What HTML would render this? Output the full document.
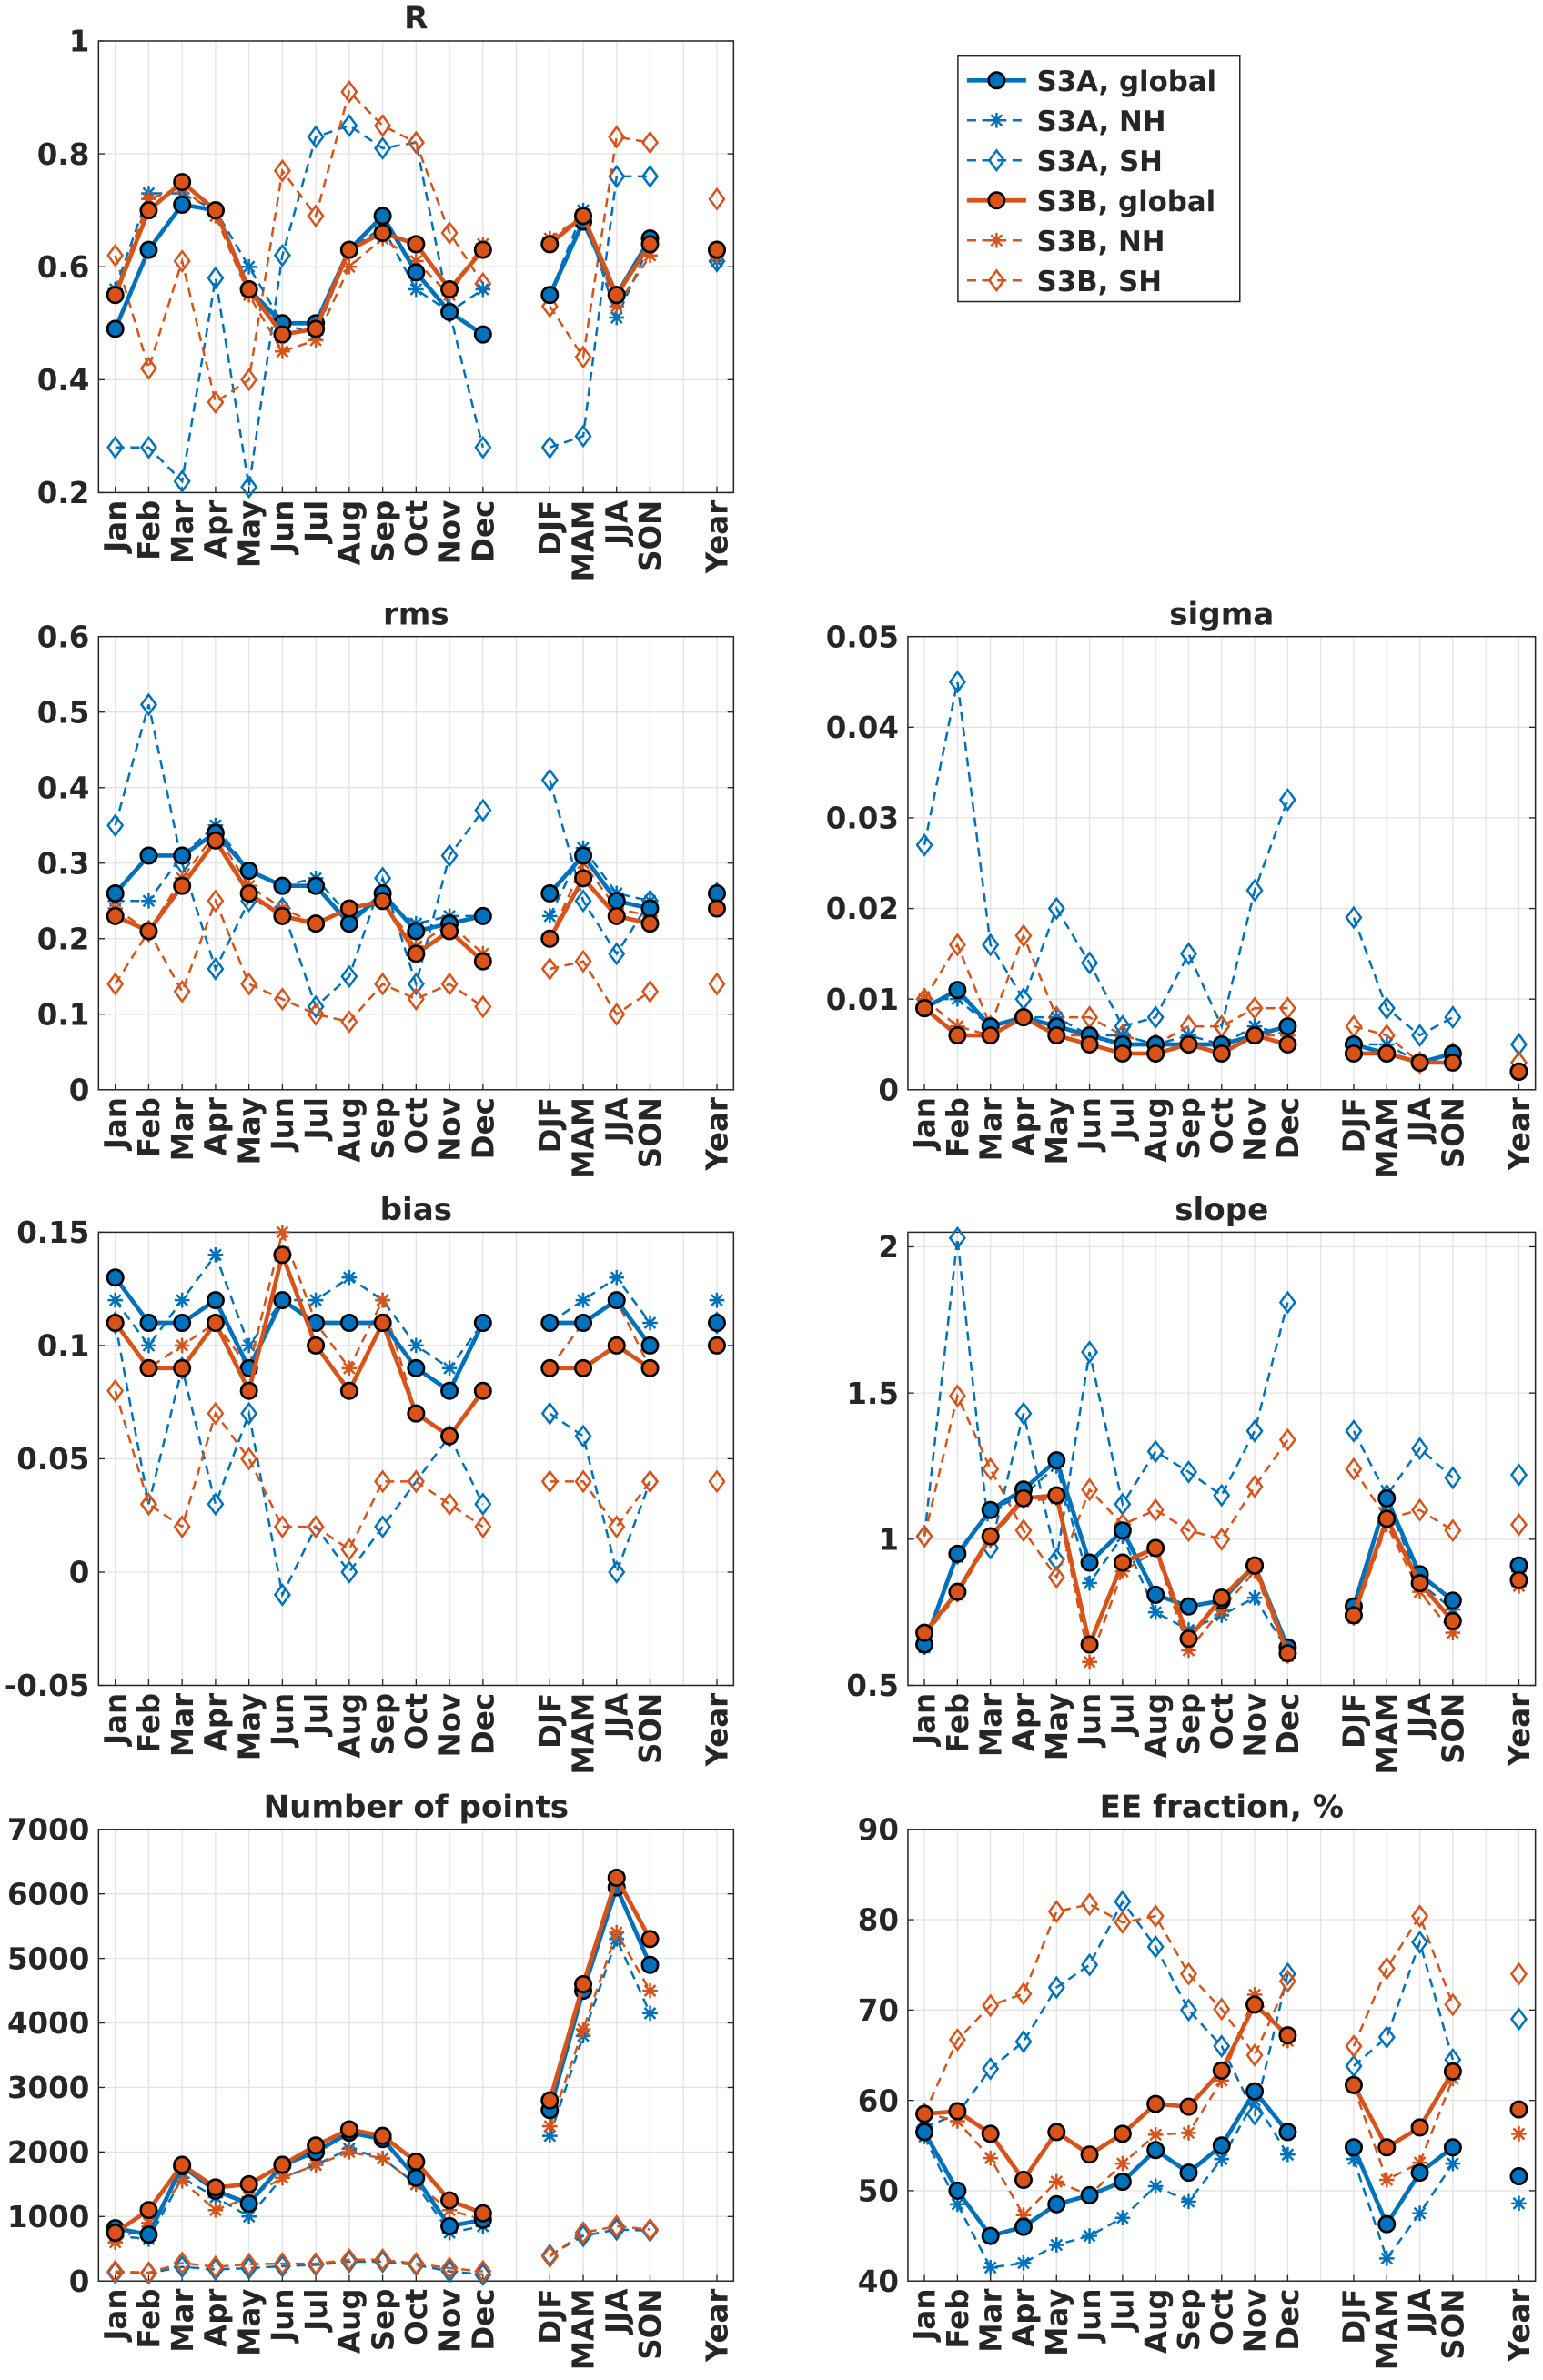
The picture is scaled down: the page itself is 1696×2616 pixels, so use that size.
<!DOCTYPE html>
<html><head><meta charset="utf-8"><style>
html,body{margin:0;padding:0;background:#fff;}
svg{display:block;}
text{font-family:"DejaVu Sans","Liberation Sans",sans-serif;font-weight:bold;fill:#262626;}
</style></head><body>
<svg id="fig" width="1696" height="2616" viewBox="0 0 1018 1570.3" xmlns="http://www.w3.org/2000/svg"></svg>
<script>
const categories=["Jan","Feb","Mar","Apr","May","Jun","Jul","Aug","Sep","Oct","Nov","Dec","DJF","MAM","JJA","SON","Year"];
const catPos=[1,2,3,4,5,6,7,8,9,10,11,12,14,15,16,17,19];
const seriesNames=["S3A, global","S3A, NH","S3A, SH","S3B, global","S3B, NH","S3B, SH"];
const R_a_g=[.49,.63,.71,.70,.56,.50,.50,.63,.69,.59,.52,.48,.55,.68,.55,.65,.63];
const R_a_n=[.56,.73,.73,.70,.60,.50,.48,.63,.67,.56,.52,.56,.55,.70,.51,.64,.61];
const R_a_s=[.28,.28,.22,.58,.21,.62,.83,.85,.81,.82,.52,.28,.28,.30,.76,.76,.61];
const R_b_g=[.55,.70,.75,.70,.56,.48,.49,.63,.66,.64,.56,.63,.64,.69,.55,.64,.63];
const R_b_n=[.55,.72,.74,.69,.55,.45,.47,.60,.65,.61,.55,.64,.65,.69,.53,.62,.62];
const R_b_s=[.62,.42,.61,.36,.40,.77,.69,.91,.85,.82,.66,.57,.53,.44,.83,.82,.72];
const rms_a_g=[.26,.31,.31,.34,.29,.27,.27,.22,.26,.21,.22,.23,.26,.31,.25,.24,.26];
const rms_a_n=[.25,.25,.31,.35,.29,.27,.28,.23,.25,.22,.23,.23,.23,.32,.26,.25,.26];
const rms_a_s=[.35,.51,.30,.16,.25,.24,.11,.15,.28,.14,.31,.37,.41,.25,.18,.25,.26];
const rms_b_g=[.23,.21,.27,.33,.26,.23,.22,.24,.25,.18,.21,.17,.20,.28,.23,.22,.24];
const rms_b_n=[.24,.21,.28,.34,.27,.24,.22,.24,.25,.19,.22,.18,.20,.30,.24,.23,.24];
const rms_b_s=[.14,.21,.13,.25,.14,.12,.10,.09,.14,.12,.14,.11,.16,.17,.10,.13,.14];
const sig_a_g=[.009,.011,.007,.008,.007,.006,.005,.005,.005,.005,.006,.007,.005,.004,.003,.004,.002];
const sig_a_n=[.010,.010,.007,.008,.008,.006,.006,.005,.006,.005,.007,.006,.005,.005,.003,.004,.002];
const sig_a_s=[.027,.045,.016,.010,.020,.014,.007,.008,.015,.007,.022,.032,.019,.009,.006,.008,.005];
const sig_b_g=[.009,.006,.006,.008,.006,.005,.004,.004,.005,.004,.006,.005,.004,.004,.003,.003,.002];
const sig_b_n=[.010,.007,.006,.008,.006,.006,.005,.005,.005,.005,.006,.006,.004,.004,.003,.003,.002];
const sig_b_s=[.010,.016,.007,.017,.008,.008,.006,.005,.007,.007,.009,.009,.007,.006,.003,.004,.003];
const bias_a_g=[.13,.11,.11,.12,.09,.12,.11,.11,.11,.09,.08,.11,.11,.11,.12,.10,.11];
const bias_a_n=[.12,.10,.12,.14,.10,.12,.12,.13,.12,.10,.09,.11,.11,.12,.13,.11,.12];
const bias_a_s=[.11,.03,.09,.03,.07,-.01,.02,0,.02,.04,.06,.03,.07,.06,0,.04,.11];
const bias_b_g=[.11,.09,.09,.11,.08,.14,.10,.08,.11,.07,.06,.08,.09,.09,.10,.09,.10];
const bias_b_n=[.11,.09,.10,.11,.09,.15,.11,.09,.12,.07,.06,.08,.09,.11,.12,.09,.10];
const bias_b_s=[.08,.03,.02,.07,.05,.02,.02,.01,.04,.04,.03,.02,.04,.04,.02,.04,.04];
const slope_a_g=[.64,.95,1.10,1.17,1.27,.92,1.03,.81,.77,.79,.91,.63,.77,1.14,.88,.79,.91];
const slope_a_n=[.63,.94,1.10,1.15,1.25,.85,1.01,.75,.69,.74,.80,.62,.76,1.13,.85,.76,.89];
const slope_a_s=[1.01,2.03,.97,1.43,.93,1.64,1.12,1.30,1.23,1.15,1.37,1.81,1.37,1.15,1.31,1.21,1.22];
const slope_b_g=[.68,.82,1.01,1.14,1.15,.64,.92,.97,.66,.80,.91,.61,.74,1.07,.85,.72,.86];
const slope_b_n=[.67,.81,1.00,1.13,1.14,.58,.89,.96,.62,.76,.89,.60,.73,1.05,.82,.68,.84];
const slope_b_s=[1.01,1.49,1.24,1.03,.87,1.17,1.05,1.10,1.03,1.00,1.18,1.34,1.24,1.07,1.10,1.03,1.05];
const npt_a_g=[820,720,1780,1400,1200,1800,2000,2300,2200,1600,850,950,2650,4500,6100,4900,null];
const npt_a_n=[700,650,1600,1300,1000,1600,1800,2050,1900,1500,750,850,2250,3800,5300,4150,null];
const npt_a_s=[130,120,220,180,200,230,250,300,300,250,150,100,400,700,800,780,null];
const npt_b_g=[750,1100,1800,1450,1500,1800,2100,2350,2250,1850,1250,1050,2800,4600,6250,5300,null];
const npt_b_n=[600,900,1550,1100,1300,1600,1800,2000,1900,1500,1100,950,2400,3900,5400,4500,null];
const npt_b_s=[150,130,280,220,260,270,270,330,330,270,200,150,380,750,850,800,null];
const ee_a_g=[56.5,50,45,46,48.5,49.5,51,54.5,52,55,61,56.5,54.8,46.3,52,54.8,51.6];
const ee_a_n=[56,48.5,41.5,42,44,45,47,50.5,48.8,53.5,60,54,53.5,42.5,47.5,53,48.6];
const ee_a_s=[57,58.5,63.5,66.5,72.5,75,82,77,70,66,58.5,74,63.8,67,77.5,64.5,69];
const ee_b_g=[58.5,58.8,56.3,51.2,56.5,54,56.3,59.6,59.3,63.3,70.6,67.2,61.7,54.8,57,63.2,59];
const ee_b_n=[58.6,57.7,53.6,47.3,51,49.5,53,56.2,56.4,62.2,71.7,66.6,61.5,51.2,53.1,62.4,56.3];
const ee_b_s=[58.5,66.7,70.5,71.8,80.9,81.7,79.7,80.4,74,70.1,65,73.2,66,74.6,80.4,70.6,74];
const ticksR=[0.2,0.4,0.6,0.8,1], ticksRlab=["0.2","0.4","0.6","0.8","1"];
const ticksRms=[0,.1,.2,.3,.4,.5,.6], ticksRmsLab=["0","0.1","0.2","0.3","0.4","0.5","0.6"];
const ticksSig=[0,.01,.02,.03,.04,.05], ticksSigLab=["0","0.01","0.02","0.03","0.04","0.05"];
const ticksBias=[-.05,0,.05,.1,.15], ticksBiasLab=["-0.05","0","0.05","0.1","0.15"];
const ticksSlope=[.5,1,1.5,2], ticksSlopeLab=["0.5","1","1.5","2"];
const ticksNpt=[0,1000,2000,3000,4000,5000,6000,7000], ticksNptLab=["0","1000","2000","3000","4000","5000","6000","7000"];
const ticksEE=[40,50,60,70,80,90], ticksEELab=["40","50","60","70","80","90"];

const NS="http://www.w3.org/2000/svg";
const svg=document.getElementById('fig');
const BLUE="#0072BD", ORANGE="#D95319";
function el(tag,attrs,parent){const e=document.createElementNS(NS,tag);for(const k in attrs)e.setAttribute(k,attrs[k]);(parent||svg).appendChild(e);return e;}

function marker(g,type,x,y,color){
  let m;
  if(type==='o'){m=el('circle',{cx:x,cy:y,r:5.2,fill:color,stroke:'#000','stroke-width':1.6},g);}
  else if(type==='*'){m=el('path',{d:`M${x-5},${y}H${x+5}M${x},${y-5}V${y+5}M${x-3.6},${y-3.6}L${x+3.6},${y+3.6}M${x-3.6},${y+3.6}L${x+3.6},${y-3.6}`,stroke:color,'stroke-width':1.5,fill:'none'},g);}
  else {m=el('path',{d:`M${x},${y-6.5}L${x+4.8},${y}L${x},${y+6.5}L${x-4.8},${y}Z`,stroke:color,'stroke-width':1.5,fill:'none'},g);}
  return m;
}

function chart(name,title,L,R,T,B,ymin,ymax,ticks,tickLab,series){
  const g=el('g',{});
  
  
  const xs=v=>L+(v-0.5)/19*(R-L);
  const ys=v=>B-(v-ymin)/(ymax-ymin)*(B-T);
  el('rect',{x:L,y:T,width:R-L,height:B-T,fill:'#fff'},g);
  for(let i=1;i<=19;i++){el('line',{x1:xs(i),x2:xs(i),y1:T,y2:B,stroke:'#e3e3e3','stroke-width':0.8},g);}
  ticks.forEach((t,i)=>{
    const y=ys(t);
    if(y>T+0.5&&y<B-0.5) el('line',{x1:L,x2:R,y1:y,y2:y,stroke:'#e3e3e3','stroke-width':0.8},g);
    el('line',{x1:L,x2:L+4,y1:y,y2:y,stroke:'#262626','stroke-width':0.8},g);
    el('line',{x1:R,x2:R-4,y1:y,y2:y,stroke:'#262626','stroke-width':0.8},g);
    const tx=el('text',{x:L-6,y:y+7,'text-anchor':'end','font-size':19.5},g);
    
    
    tx.textContent=tickLab[i];
  });
  categories.forEach((c,i)=>{
    const x=xs(catPos[i]);
    el('line',{x1:x,x2:x,y1:B,y2:B-4,stroke:'#262626','stroke-width':0.8},g);
    const tx=el('text',{x:0,y:0,'text-anchor':'end','font-size':19.5,transform:`translate(${x+7},${B+5}) rotate(-90)`},g);
    
    
    tx.textContent=c;
  });
  el('rect',{x:L,y:T,width:R-L,height:B-T,fill:'none',stroke:'#262626','stroke-width':0.9},g);
  const tt=el('text',{x:(L+R)/2,y:T-8,'text-anchor':'middle','font-size':20.5},g);
  
  
  tt.textContent=title;
  const order=[2,5,1,4,0,3];
  order.forEach(si=>{
    const vals=series[si];
    const color=si<3?BLUE:ORANGE;
    const type=['o','*','d'][si%3];
    const sg=el('g',{},g);
    
    
    const groups=[[0,12],[12,16],[16,17]];
    groups.forEach(([a,b])=>{
      let pts=[];
      for(let i=a;i<b;i++){if(vals[i]!==null)pts.push(xs(catPos[i])+','+ys(vals[i]));}
      if(pts.length>1){
        const ln=el('polyline',{points:pts.join(' '),fill:'none',stroke:color,'stroke-width':type==='o'?2.8:1.5,'stroke-dasharray':type==='o'?'none':'6,4'},sg);
        
        
      }
    });
    vals.forEach((v,i)=>{
      if(v===null)return;
      const m=marker(sg,type,xs(catPos[i]),ys(v),color);
      
      
    });
  });
}
const LL=65, LR=484, RL=599, RR=1013;
chart('r','R',LL,LR,27,325,0.2,1,ticksR,ticksRlab,[R_a_g,R_a_n,R_a_s,R_b_g,R_b_n,R_b_s]);
chart('rms','rms',LL,LR,420,719,0,0.6,ticksRms,ticksRmsLab,[rms_a_g,rms_a_n,rms_a_s,rms_b_g,rms_b_n,rms_b_s]);
chart('sigma','sigma',RL,RR,420,719,0,0.05,ticksSig,ticksSigLab,[sig_a_g,sig_a_n,sig_a_s,sig_b_g,sig_b_n,sig_b_s]);
chart('bias','bias',LL,LR,813,1112,-0.05,0.15,ticksBias,ticksBiasLab,[bias_a_g,bias_a_n,bias_a_s,bias_b_g,bias_b_n,bias_b_s]);
chart('slope','slope',RL,RR,813,1112,0.5,2.05,ticksSlope,ticksSlopeLab,[slope_a_g,slope_a_n,slope_a_s,slope_b_g,slope_b_n,slope_b_s]);
chart('points','Number of points',LL,LR,1207,1505,0,7000,ticksNpt,ticksNptLab,[npt_a_g,npt_a_n,npt_a_s,npt_b_g,npt_b_n,npt_b_s]);
chart('ee','EE fraction, %',RL,RR,1207,1505,40,90,ticksEE,ticksEELab,[ee_a_g,ee_a_n,ee_a_s,ee_b_g,ee_b_n,ee_b_s]);

const lg=el('g',{});


el('rect',{x:632,y:37,width:186,height:162,fill:'#fff',stroke:'#262626','stroke-width':0.9},lg);
seriesNames.forEach((n,i)=>{
  const y=53+i*26.4;
  const color=i<3?BLUE:ORANGE;
  const type=['o','*','d'][i%3];
  const eg=el('g',{},lg);
  
  
  el('line',{x1:638,x2:677,y1:y,y2:y,stroke:color,'stroke-width':type==='o'?2.8:1.5,'stroke-dasharray':type==='o'?'none':'6,4'},eg);
  marker(eg,type,657.5,y,color);
  const t=el('text',{x:684,y:y+7,'font-size':18.5},eg);
  t.textContent=n;
});
</script>
</body></html>
